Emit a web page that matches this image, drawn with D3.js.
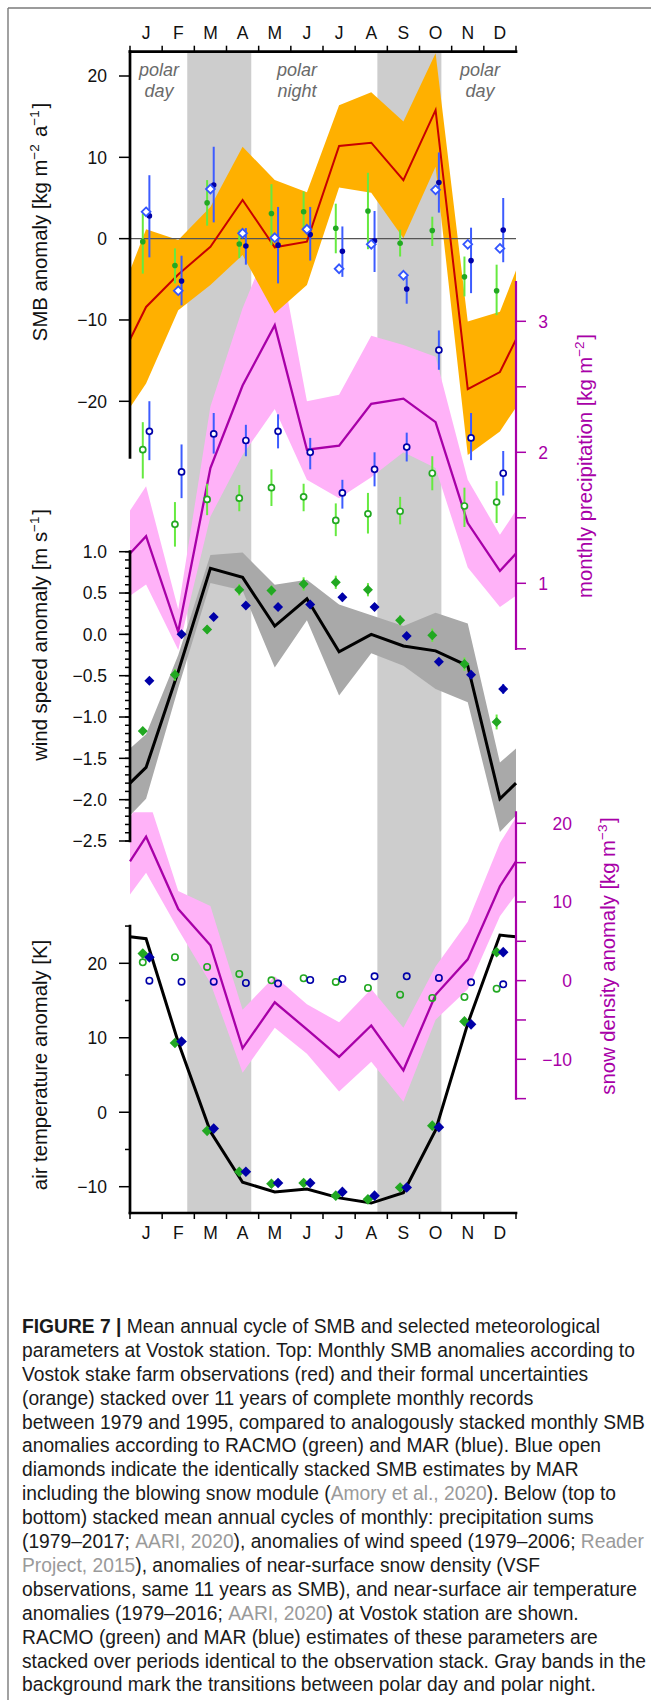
<!DOCTYPE html>
<html><head><meta charset="utf-8">
<script src="https://cdn.jsdelivr.net/npm/d3@7"></script>
<style>
html,body{margin:0;padding:0;background:#fff;}
svg{display:block;font-family:"Liberation Sans",Arial,Helvetica,sans-serif;}
</style></head><body>
<svg id="fig" width="651" height="1700"></svg>
<script>
// ---------- data: stacked monthly means (Jan..Dec) ----------
const months = ["J","F","M","A","M","J","J","A","S","O","N","D"];

// SMB anomaly [kg m-2 a-1]
const smbObs    = [-8.4, -4.4, -1.0, 4.75, -1.07, -0.37, 11.4, 11.8, 7.2, 15.8, -18.5, -16.4];
const smbObsHi  = [1.15, -0.16, 3.9, 11.3, 7.2, 5.7, 16.4, 18.0, 14.4, 22.8, -10.2, -9.0];
const smbObsLo  = [-17.8, -8.8, -5.7, -2.0, -9.2, -5.7, 6.3, 5.65, 0.04, 8.85, -26.6, -23.7];
const smbRacmo   = [-0.37, -3.3, 4.4, -0.66, 3.1, 3.3, 1.27, 3.4, -0.57, 1.0, -4.7, -6.4];
const smbRacmoHi = [3.1, -1.2, 7.2, 1.1, 6.7, 5.8, 4.3, 8.1, 1.1, 2.7, -2.2, -3.2];
const smbRacmoLo = [-4.3, -5.5, 1.6, -2.4, -0.8, 1.1, -1.8, -1.3, -2.2, -0.9, -7.1, -9.4];
const smbMar   = [2.8, -5.2, 6.6, -0.9, -0.8, 0.5, -1.56, -0.25, -6.2, 6.9, -2.7, 1.07];
const smbMarHi = [7.8, -2.1, 11.3, 1.3, 3.9, 3.9, 1.5, 3.4, -4.7, 10.6, 1.35, 5.0];
const smbMarLo = [-2.3, -8.2, 2.0, -3.2, -5.5, -2.7, -4.7, -4.1, -8.0, 3.2, -6.7, -2.9];
const smbMarBlowingSnow = [3.3, -6.4, 6.1, 0.66, 0.12, 1.15, -3.7, -0.7, -4.5, 6.0, -0.7, -1.2];

// monthly precipitation [kg m-2]
const precipObs = [1.36, 0.63, 1.88, 2.51, 2.97, 2.02, 2.05, 2.37, 2.41, 2.23, 1.46, 1.094];
const precipHi  = [1.74, 0.80, 2.35, 3.1, 3.7, 2.39, 2.44, 2.89, 2.82, 2.73, 1.79, 1.37];
const precipLo  = [0.99, 0.49, 1.51, 1.98, 2.33, 1.79, 1.65, 1.81, 2.0, 1.88, 1.12, 0.82];
const precipRacmo   = [2.02, 1.45, 1.64, 1.65, 1.73, 1.66, 1.48, 1.53, 1.55, 1.84, 1.59, 1.62];
const precipRacmoHi = [2.23, 1.62, 1.76, 1.75, 1.87, 1.76, 1.61, 1.69, 1.66, 1.97, 1.73, 1.78];
const precipRacmoLo = [1.80, 1.28, 1.52, 1.55, 1.59, 1.55, 1.36, 1.38, 1.45, 1.71, 1.43, 1.46];
const precipMar   = [2.16, 1.85, 2.14, 2.09, 2.16, 2.0, 1.69, 1.87, 2.04, 2.78, 2.11, 1.84];
const precipMarHi = [2.39, 2.06, 2.30, 2.21, 2.29, 2.11, 1.79, 2.0, 2.15, 2.93, 2.30, 2.01];
const precipMarLo = [1.94, 1.65, 1.99, 1.97, 2.03, 1.87, 1.57, 1.74, 1.93, 2.63, 1.94, 1.67];

// wind speed anomaly [m s-1]
const windObs = [-1.61, -0.45, 0.80, 0.69, 0.10, 0.43, -0.21, 0.0, -0.14, -0.20, -0.38, -1.99];
const windHi  = [-1.21, -0.25, 0.96, 0.99, 0.60, 0.66, 0.36, 0.23, 0.10, 0.26, 0.13, -1.55];
const windLo  = [-1.99, -0.65, 0.62, 0.53, -0.40, 0.17, -0.74, -0.23, -0.38, -0.66, -0.82, -2.39];
const windRacmo    = [-1.17, -0.49, 0.06, 0.54, 0.53, 0.61, 0.63, 0.54, 0.17, -0.01, -0.36, -1.06];
const windRacmoErr = [0.05, 0.07, 0.05, 0.07, 0.06, 0.08, 0.08, 0.08, 0.06, 0.08, 0.08, 0.09];
const windMar    = [-0.56, 0.0, 0.21, 0.35, 0.33, 0.36, 0.45, 0.33, -0.02, -0.33, -0.49, -0.66];
const windMarErr = [0.04, 0.04, 0.04, 0.04, 0.04, 0.04, 0.05, 0.04, 0.04, 0.04, 0.05, 0.06];

// snow density anomaly [kg m-3]
const snowObs = [18.3, 9.1, 4.5, -8.6, -2.75, -6.2, -9.7, -5.7, -11.4, -1.8, 2.7, 12.0];
const snowHi  = [24.0, 11.4, 9.5, -3.7, 0.55, -3.0, -5.3, -1.06, -6.0, 1.8, 7.5, 17.5];
const snowLo  = [13.7, 6.5, -0.3, -11.7, -6.0, -9.3, -14.1, -10.3, -15.4, -4.96, -1.1, 8.2];
const snowRacmo = [2.33, 2.97, 1.74, 0.85, 0.04, 0.3, -0.17, -0.93, -1.78, -2.2, -2.08, -1.02];
const snowMar   = [0.0, -0.13, -0.13, -0.3, -0.38, 0.08, 0.21, 0.55, 0.55, 0.34, -0.21, -0.47];

// air temperature anomaly [K]
const tempObs   = [23.3, 9.4, -2.6, -9.4, -10.7, -10.3, -11.5, -12.2, -10.8, -2.4, 11.9, 23.8];
const tempRacmo = [21.3, 9.3, -2.5, -8.0, -9.6, -9.5, -11.2, -11.7, -10.1, -1.8, 12.2, 21.5];
const tempMar   = [20.8, 9.5, -2.2, -8.0, -9.5, -9.5, -10.7, -11.2, -10.1, -2.0, 11.8, 21.5];

// transitions polar day <-> polar night, in month units from 1 Jan
const transitionBands = [[1.78, 3.77], [7.69, 9.68]];

// axis ticks
const smbTicks = [-20, -10, 0, 10, 20];
const windTicks = [-2.5, -2.0, -1.5, -1.0, -0.5, 0.0, 0.5, 1.0];
const tempTicks = [-10, 0, 10, 20];
const precipTicks = [1, 2, 3];
const snowTicks = [-10, 0, 10, 20];

// ---------- layout ----------
const svg = d3.select("#fig");
const FONT = 17.5, TITLE_FONT = 20.3;
const TOP = 51.7, BOTTOM = 1213;
const x = d3.scaleLinear().domain([0, 12]).range([130, 516]);
const ySMB  = d3.scaleLinear().domain([-20, 20]).range([401.3, 76]);
const yPre  = d3.scaleLinear().domain([1, 3]).range([583.3, 321.3]);
const yWind = d3.scaleLinear().domain([-2.5, 1]).range([841, 551.7]);
const ySnow = d3.scaleLinear().domain([-10, 20]).range([1059.3, 823.3]);
const yTemp = d3.scaleLinear().domain([-10, 20]).range([1186.7, 963.3]);

const C = {
  band: "#cdcdcd", orange: "#ffb000", red: "#c80000",
  pink: "#ffb2f8", magenta: "#a800a8", windBand: "#a9a9a9",
  green: "#22a822", lime: "#66ea40", navy: "#0000a8", blue: "#3d5cff",
  openBlue: "#3355ff"
};
const OFF = 3.3; // horizontal offset of RACMO (left) and MAR (right) markers

// cyclic series: the year wraps from December into January at both edges
const cyc = arr => {
  const e = (arr[0] + arr[11]) / 2;
  return [{m: 0, v: e}, ...arr.map((v, i) => ({m: i + 0.5, v})), {m: 12, v: e}];
};
const months12 = d3.range(12);

const defs = svg.append("defs");
defs.append("clipPath").attr("id", "snowClip").append("rect")
  .attr("x", x(0)).attr("width", x(12) - x(0))
  .attr("y", ySnow(21.4)).attr("height", BOTTOM - ySnow(21.4));

// frame of the figure panel
svg.append("line").attr("x1", 8).attr("x2", 651).attr("y1", 8).attr("y2", 8)
  .attr("stroke", "#7a7a7a").attr("stroke-width", 1.4);
svg.append("line").attr("x1", 8).attr("x2", 8).attr("y1", 8).attr("y2", 1700)
  .attr("stroke", "#7a7a7a").attr("stroke-width", 1.4);

// gray transition bands
svg.append("g").selectAll("rect").data(transitionBands).join("rect")
  .attr("x", d => x(d[0])).attr("width", d => x(d[1]) - x(d[0]))
  .attr("y", TOP).attr("height", BOTTOM - TOP).attr("fill", C.band);

function band(y, hi, lo, fill, clip) {
  const H = cyc(hi), L = cyc(lo);
  const data = H.map((h, i) => ({m: h.m, hi: h.v, lo: L[i].v}));
  const p = svg.append("path").datum(data)
    .attr("d", d3.area().x(d => x(d.m)).y0(d => y(d.lo)).y1(d => y(d.hi)))
    .attr("fill", fill);
  if (clip) p.attr("clip-path", `url(#${clip})`);
}
function line(y, arr, color, w) {
  svg.append("path").datum(cyc(arr))
    .attr("d", d3.line().x(d => x(d.m)).y(d => y(d.v)))
    .attr("fill", "none").attr("stroke", color).attr("stroke-width", w)
    .attr("stroke-linejoin", "miter");
}
function errBars(y, lo, hi, dx, color, w) {
  svg.append("g").selectAll("line").data(months12).join("line")
    .attr("x1", i => x(i + 0.5) + dx).attr("x2", i => x(i + 0.5) + dx)
    .attr("y1", i => y(lo[i])).attr("y2", i => y(hi[i]))
    .attr("stroke", color).attr("stroke-width", w);
}
function dots(y, arr, dx, r, fill, stroke, sw) {
  svg.append("g").selectAll("circle").data(months12).join("circle")
    .attr("cx", i => x(i + 0.5) + dx).attr("cy", i => y(arr[i])).attr("r", r)
    .attr("fill", fill).attr("stroke", stroke || "none").attr("stroke-width", sw || 0);
}
function diamonds(y, arr, dx, r, fill, stroke, sw) {
  svg.append("g").selectAll("path").data(months12).join("path")
    .attr("transform", i => `translate(${x(i + 0.5) + dx},${y(arr[i])})`)
    .attr("d", `M0,${-r}L${r},0L0,${r}L${-r},0Z`)
    .attr("fill", fill).attr("stroke", stroke || "none").attr("stroke-width", sw || 0);
}

// ---------- shaded uncertainty bands ----------
band(yPre, precipHi, precipLo, C.pink);
band(ySnow, snowHi, snowLo, C.pink, "snowClip");
band(ySMB, smbObsHi, smbObsLo, C.orange);
band(yWind, windHi, windLo, C.windBand);

// zero line of the SMB panel
svg.append("line").attr("x1", x(0)).attr("x2", x(12))
  .attr("y1", ySMB(0)).attr("y2", ySMB(0)).attr("stroke", "#555").attr("stroke-width", 1.2);

// ---------- observation curves ----------
line(ySMB, smbObs, C.red, 2);
line(yPre, precipObs, C.magenta, 2.3);
line(ySnow, snowObs, C.magenta, 2.3);
line(yWind, windObs, "#000", 3);
line(yTemp, tempObs, "#000", 3);

// ---------- model estimates ----------
// SMB
errBars(ySMB, smbRacmoLo, smbRacmoHi, -OFF, C.lime, 2);
errBars(ySMB, smbMarLo, smbMarHi, OFF, C.blue, 2);
dots(ySMB, smbRacmo, -OFF, 2.8, C.green);
dots(ySMB, smbMar, OFF, 2.8, C.navy);
diamonds(ySMB, smbMarBlowingSnow, 0, 4.4, "#fff", C.openBlue, 1.8);
// precipitation
errBars(yPre, precipRacmoLo, precipRacmoHi, -OFF, C.lime, 2);
errBars(yPre, precipMarLo, precipMarHi, OFF, C.blue, 2);
dots(yPre, precipRacmo, -OFF, 3, "#fff", C.green, 1.7);
dots(yPre, precipMar, OFF, 3, "#fff", C.navy, 1.7);
// wind
errBars(yWind, windRacmo.map((v, i) => v - windRacmoErr[i]), windRacmo.map((v, i) => v + windRacmoErr[i]), -OFF, C.lime, 2);
errBars(yWind, windMar.map((v, i) => v - windMarErr[i]), windMar.map((v, i) => v + windMarErr[i]), OFF, C.blue, 2);
diamonds(yWind, windRacmo, -OFF, 5, C.green);
diamonds(yWind, windMar, OFF, 5, C.navy);
// snow density
dots(ySnow, snowRacmo, -OFF, 3.2, "none", C.green, 1.6);
dots(ySnow, snowMar, OFF, 3.2, "none", C.navy, 1.6);
// temperature
diamonds(yTemp, tempRacmo, -OFF, 5.3, C.green);
diamonds(yTemp, tempMar, OFF, 5.3, C.navy);

// ---------- axes ----------
const axG = svg.append("g").attr("font-size", FONT);

function vline(xp, y1, y2, color, w) {
  axG.append("line").attr("x1", xp).attr("x2", xp).attr("y1", y1).attr("y2", y2)
    .attr("stroke", color).attr("stroke-width", w).attr("stroke-linecap", "square");
}
function ticks(y, vals, xp, len, color) {
  axG.append("g").selectAll("line").data(vals).join("line")
    .attr("x1", xp).attr("x2", xp + len).attr("y1", d => y(d)).attr("y2", d => y(d))
    .attr("stroke", color).attr("stroke-width", 1.5);
}
function labels(y, vals, xp, anchor, color, fmt) {
  axG.append("g").selectAll("text").data(vals).join("text")
    .attr("x", xp).attr("y", d => y(d)).attr("dy", "0.36em")
    .attr("text-anchor", anchor).attr("fill", color)
    .text(d => fmt(d).replace("-", "\u2212"));
}
const fInt = d3.format("d"), f1 = d3.format(".1f");

// month axes (top and bottom)
[[TOP, -6, 39.3], [BOTTOM, 6, 1239.3]].forEach(([yy, tl, ty]) => {
  axG.append("line").attr("x1", x(0)).attr("x2", x(12)).attr("y1", yy).attr("y2", yy)
    .attr("stroke", "#000").attr("stroke-width", 2.7).attr("stroke-linecap", "square");
  axG.append("g").selectAll("line").data(d3.range(13)).join("line")
    .attr("x1", d => x(d)).attr("x2", d => x(d)).attr("y1", yy).attr("y2", yy + tl)
    .attr("stroke", "#000").attr("stroke-width", 1.5);
  axG.append("g").selectAll("text").data(months).join("text")
    .attr("x", (d, i) => x(i + 0.5)).attr("y", ty).attr("text-anchor", "middle")
    .attr("fill", "#111").text(d => d);
});

// SMB axis
vline(x(0), TOP, ySMB(-26.9), "#000", 2.7);
ticks(ySMB, smbTicks, x(0), -11, "#000");
labels(ySMB, smbTicks, 107, "end", "#111", fInt);

// wind axis
vline(x(0), yWind(1), yWind(-2.5), "#000", 2.7);
ticks(yWind, d3.range(-25, 11).map(d => d / 10), x(0), -5, "#000");
ticks(yWind, windTicks, x(0), -11, "#000");
labels(yWind, windTicks, 107, "end", "#111", f1);

// temperature axis
vline(x(0), yTemp(25), BOTTOM, "#000", 2.7);
ticks(yTemp, [-5, 5, 15, 25], x(0), -5, "#000");
ticks(yTemp, tempTicks, x(0), -11, "#000");
labels(yTemp, tempTicks, 107, "end", "#111", fInt);

// precipitation axis (right)
vline(x(12), yPre(3.3), yPre(0.5), C.magenta, 2.2);
ticks(yPre, [0.5, 1, 1.5, 2, 2.5, 3], x(12), 10, C.magenta);
labels(yPre, precipTicks, 548, "end", C.magenta, fInt);

// snow density axis (right)
vline(x(12), ySnow(21.4), ySnow(-15), C.magenta, 2.2);
ticks(ySnow, [-15, -10, -5, 0, 5, 10, 15, 20], x(12), 10, C.magenta);
labels(ySnow, snowTicks, 572, "end", C.magenta, fInt);

// axis titles
function title(cx, cy, parts, color) {
  const t = axG.append("text").attr("transform", `translate(${cx},${cy}) rotate(-90)`)
    .attr("font-size", TITLE_FONT)
    .attr("text-anchor", "middle").attr("dy", "0.36em").attr("fill", color);
  parts.forEach(p => {
    if (typeof p === "string") t.append("tspan").text(p);
    else {
      t.append("tspan").attr("dy", -8).attr("font-size", 13.5).text(p.sup);
      t.append("tspan").attr("dy", 8).text("\u200A");
    }
  });
}
title(40, 222, ["SMB anomaly [kg m", {sup: "\u22122"}, " a", {sup: "\u22121"}, "]"], "#111");
title(40, 635, ["wind speed anomaly [m s", {sup: "\u22121"}, "]"], "#111");
title(40, 1065, ["air temperature anomaly [K]"], "#111");
title(585, 466, ["monthly precipitation [kg m", {sup: "\u22122"}, "]"], C.magenta);
title(608, 956, ["snow density anomaly [kg m", {sup: "\u22123"}, "]"], C.magenta);

// polar day / night labels
const polarLabels = [[0.9, "polar", "day"], [5.19, "polar", "night"], [10.88, "polar", "day"]];
const pl = axG.append("g").attr("font-style", "italic").attr("fill", "#6a6a6a")
  .attr("font-size", 18).attr("text-anchor", "middle");
polarLabels.forEach(([m, a, b]) => {
  pl.append("text").attr("x", x(m)).attr("y", 75.5).text(a);
  pl.append("text").attr("x", x(m)).attr("y", 97).text(b);
});

// ---------- caption ----------
const captionLines = [
  [["FIGURE 7 | ", "b"], ["Mean annual cycle of SMB and selected meteorological", ""]],
  [["parameters at Vostok station. Top: Monthly SMB anomalies according to", ""]],
  [["Vostok stake farm observations (red) and their formal uncertainties", ""]],
  [["(orange) stacked over 11 years of complete monthly records", ""]],
  [["between 1979 and 1995, compared to analogously stacked monthly SMB", ""]],
  [["anomalies according to RACMO (green) and MAR (blue). Blue open", ""]],
  [["diamonds indicate the identically stacked SMB estimates by MAR", ""]],
  [["including the blowing snow module (", ""], ["Amory et al., 2020", "g"], ["). Below (top to", ""]],
  [["bottom) stacked mean annual cycles of monthly: precipitation sums", ""]],
  [["(1979\u20132017; ", ""], ["AARI, 2020", "g"], ["), anomalies of wind speed (1979\u20132006; ", ""], ["Reader", "g"]],
  [["Project, 2015", "g"], ["), anomalies of near-surface snow density (VSF", ""]],
  [["observations, same 11 years as SMB), and near-surface air temperature", ""]],
  [["anomalies (1979\u20132016; ", ""], ["AARI, 2020", "g"], [") at Vostok station are shown.", ""]],
  [["RACMO (green) and MAR (blue) estimates of these parameters are", ""]],
  [["stacked over periods identical to the observation stack. Gray bands in the", ""]],
  [["background mark the transitions between polar day and polar night.", ""]]
];
const capG = svg.append("g").attr("font-size", 19.5).attr("fill", "#1a1a1a");
const capTexts = captionLines.map((parts, i) => {
  const t = capG.append("text").attr("x", 0).attr("y", 1333 + i * 23.9);
  parts.forEach(([s, st]) => {
    const ts = t.append("tspan").text(s);
    if (st === "b") ts.attr("font-weight", "bold");
    if (st === "g") ts.attr("fill", "#9a9a9a");
  });
  return t;
});
const widest = d3.max(capTexts, t => t.node().getComputedTextLength());
const sx = 624 / widest;
capG.attr("transform", `translate(22,0) scale(${sx},1)`);
</script></body></html>
